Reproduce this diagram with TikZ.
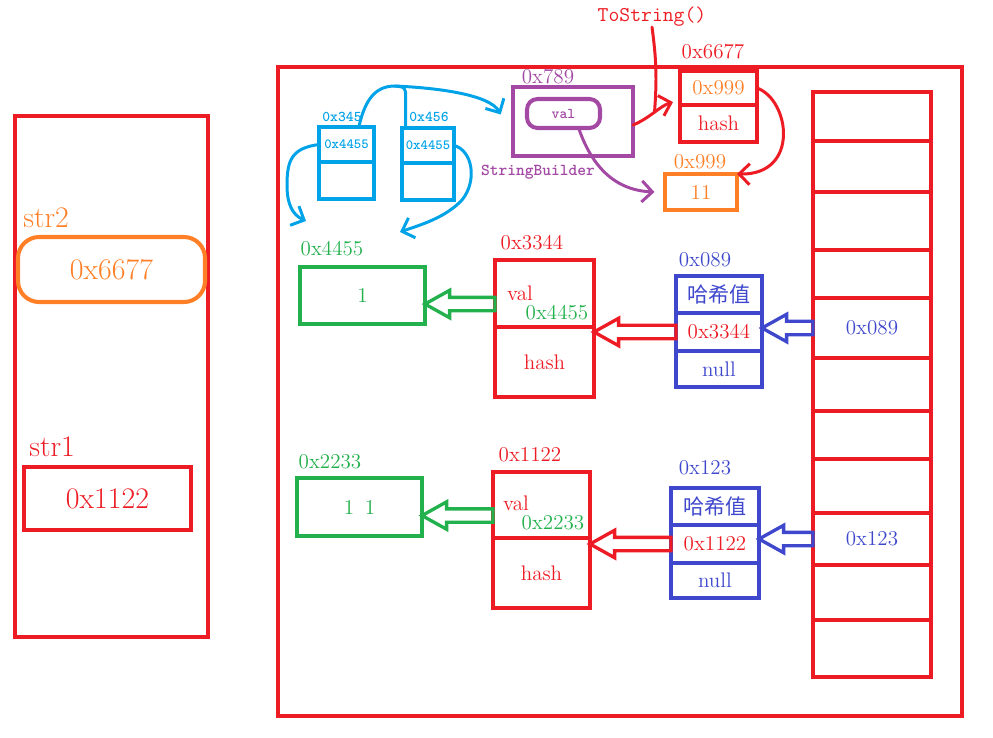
\documentclass[tikz,border=0pt]{standalone}
\usepackage{fontspec}
\newfontfamily\cjkfont{Noto Sans CJK SC}
\usetikzlibrary{arrows.meta, positioning, calc}

\definecolor{pred}{HTML}{ED1C24}
\definecolor{porange}{HTML}{FF7F27}
\definecolor{pgreen}{HTML}{22B14C}
\definecolor{pblue}{HTML}{3F48CC}
\definecolor{pcyan}{HTML}{00A2E8}
\definecolor{ppurple}{HTML}{A349A4}

\begin{document}
\begin{tikzpicture}[x=0.02cm, y=-0.02cm,
        sz/.style 2 args={minimum width=(#1)*0.02cm, minimum height=(#2)*0.02cm},
        frame/.style={draw=pred, line width=2.3pt, inner sep=0pt, outer sep=0pt},
        redcell/.style={draw=pred, line width=2.2pt, inner sep=0pt, outer sep=0pt, text=pred, font=\fontsize{12}{14}\selectfont},
        greencell/.style={redcell, draw=pgreen, text=pgreen},
        bluecell/.style={redcell, draw=pblue, text=pblue},
        cyancell/.style={draw=pcyan, line width=2.4pt, inner sep=0pt, outer sep=0pt, text=pcyan, font=\ttfamily\bfseries\fontsize{8}{9}\selectfont},
        txt/.style={inner sep=0pt, font=\fontsize{12}{14}\selectfont},
        big/.style={font=\fontsize{17}{19}\selectfont},
        small/.style={inner sep=0pt, font=\ttfamily\bfseries\fontsize{8.5}{10}\selectfont},
        handline/.style={line width=1.7pt, line cap=round, line join=round},
        hand/.style={handline, -{Straight Barb[length=6pt, width=12pt]}},
        hollow/.style={line width=1.9pt, line join=miter,
            to path={let \p1=(\tikztostart), \p2=(\tikztotarget) in
                (\x1,\y1+3.8pt) -- (\x2+14pt,\y1+3.8pt) -- (\x2+14pt,\y1+7.8pt) -- (\x2,\y1)
                -- (\x2+14pt,\y1-7.8pt) -- (\x2+14pt,\y1-3.8pt) -- (\x1,\y1-3.8pt) -- cycle}}]

    \useasboundingbox (0,0) rectangle (993,737);

    % stack
    \node[frame, sz={193}{521}] (stack) at (111.5,376.5) {};
    \node[txt, big, text=porange, anchor=west] (s2lbl) at (23,218) {str2};
    \node[draw=porange, line width=2.3pt, rounded corners=12pt, sz={187}{65}, text=porange, big] (str2) at (111.5,269.5) {0x6677};
    \node[txt, big, text=pred, anchor=west] (s1lbl) at (29,447) {str1};
    \node[redcell, sz={167}{63}, big] (str1) at (107.5,498.5) {0x1122};

    % heap
    \node[frame, sz={684}{649}] (heap) at (620,391.5) {};

    % two small blue objects
    \node[cyancell, sz={55}{35}] (a1) at (346.5,144.5) {0x4455};
    \node[cyancell, sz={55}{37}, below=0pt of a1] (a2) {};
    \node[small, text=pcyan] (a0) at (342,117) {0x345};
    \node[cyancell, sz={52}{35}] (b1) at (428,145.5) {0x4455};
    \node[cyancell, sz={52}{37}, below=0pt of b1] (b2) {};
    \node[small, text=pcyan] (b0) at (429,117) {0x456};

    % StringBuilder
    \node[draw=ppurple, line width=2.3pt, outer sep=0pt, sz={120}{69}] (sb) at (573,121.5) {};
    \node[draw=ppurple, line width=2.3pt, rounded corners=6pt, sz={73}{29}, text=ppurple, font=\ttfamily\bfseries\fontsize{8.5}{10}\selectfont] (sbval) at (563.5,113.5) {val};
    \node[txt, text=ppurple] (sbaddr) at (548,77) {0x789};
    \node[small, text=ppurple, font=\ttfamily\bfseries\fontsize{9.5}{11}\selectfont] (sbname) at (538,172) {StringBuilder};

    % String 0x6677
    \node[redcell, sz={77}{34}, text=porange] (s1) at (718.5,88) {0x999};
    \node[redcell, sz={77}{37}, below=0pt of s1] (s2) {hash};
    \node[txt, text=pred] (s0) at (713,52) {0x6677};
    \node[txt, text=pred, font=\ttfamily\fontsize{12}{14}\selectfont] (tostr) at (652,17) {ToString()};

    % char array 0x999
    \node[redcell, draw=porange, text=porange, sz={72}{36}] (arr) at (701,192) {11};
    \node[txt, text=porange] (arr0) at (700,162) {0x999};

    % char arrays
    \node[greencell, sz={125}{57}] (g1) at (362.5,295.5) {1};
    \node[txt, text=pgreen] (g1lbl) at (332,249) {0x4455};
    \node[greencell, sz={125}{58}] (g2) at (359.5,507) {1\enspace1};
    \node[txt, text=pgreen] (g2lbl) at (330,462) {0x2233};

    % String objects
    \node[redcell, sz={99}{67}] (v1) at (544.5,293.5) {};
    \node[redcell, sz={99}{70}, below=0pt of v1] (h1) {hash};
    \node[txt, text=pred] (v1a) at (520,293) {val};
    \node[txt, text=pgreen] (v1b) at (557,313) {0x4455};
    \node[txt, text=pred] (v1lbl) at (532,243) {0x3344};

    \node[redcell, sz={97}{66}] (v2) at (541.5,505) {};
    \node[redcell, sz={97}{70}, below=0pt of v2] (h2) {hash};
    \node[txt, text=pred] (v2a) at (516,503) {val};
    \node[txt, text=pgreen] (v2b) at (553,523) {0x2233};
    \node[txt, text=pred] (v2lbl) at (530,455) {0x1122};

    % hash nodes
    \node[bluecell, sz={86}{37}] (n1) at (719,294.5) {\cjkfont 哈希值};
    \node[bluecell, sz={86}{38}, below=0pt of n1, text=pred] (n1p) {0x3344};
    \node[bluecell, sz={86}{36}, below=0pt of n1p] (n1n) {null};
    \node[txt, text=pblue] (n1lbl) at (705,260) {0x089};

    \node[bluecell, sz={88}{37}] (n2) at (715,506.5) {\cjkfont 哈希值};
    \node[bluecell, sz={88}{38}, below=0pt of n2, text=pred] (n2p) {0x1122};
    \node[bluecell, sz={88}{35}, below=0pt of n2p] (n2n) {null};
    \node[txt, text=pblue] (n2lbl) at (705,468) {0x123};

    % string table
    \foreach \a/\b [count=\i] in {92/141,141/192,192/250,250/298,298/358,358/411,411/459,459/513,513/565,565/620,620/677}
        \node[frame, line width=2.2pt, sz={118}{\b-\a}] (t\i) at (872,{(\a+\b)/2}) {};
    \node[txt, text=pblue] (t5txt) at (t5) {0x089};
    \node[txt, text=pblue] (t9txt) at (t9) {0x123};

    % hollow arrows
    \draw[hollow, pgreen] ([yshift=-6pt]v1.west) to (g1.east);
    \draw[hollow, pgreen] ([yshift=-6pt]v2.west) to (g2.east);
    \draw[hollow, pred] (n1p.west) to (v1.south east);
    \draw[hollow, pred] (n2p.west) to (v2.south east);
    \draw[hollow, pblue] (t5.west) to (n1p.east);
    \draw[hollow, pblue] (t9.west) to (n2p.east);

    % hand drawn pointers
    \coordinate (top) at (395,86);
    \coordinate (sbin) at ([xshift=-7pt, yshift=4pt]sb.west);
    \coordinate (g1in) at (306,221);
    \coordinate (g1in2) at (400,232);
    \draw[hand, pcyan] ([xshift=7pt]a1.north) .. controls (365,100) and (375,86) .. (top)
        .. controls (440,88) and (490,95) .. (sbin);
    \draw[handline, pcyan] ([xshift=2pt]b1.north west) -- ++(0,-36) .. controls (404,87) .. (top);
    \draw[hand, pcyan] (a1.west) .. controls (292,148) and (287,160) .. (287,185)
        .. controls (287,205) and (293,215) .. (g1in);
    \draw[hand, pcyan] (b1.east) .. controls (472,150) and (478,180) .. (462,200)
        .. controls (445,218) and (420,225) .. (g1in2);

    \draw[hand, ppurple] ([xshift=9pt]sbval.south) .. controls (590,160) and (610,190) .. ([xshift=-6pt]arr.west);
    \draw[hand, pred] ([yshift=-2pt]sb.east) .. controls (650,118) and (660,106) .. ([xshift=-4pt, yshift=-8pt]s1.west)
        coordinate[pos=0.5] (ts);
    \draw[handline, pred] (tostr.south) to[bend left=6] (ts);
    \draw[hand, pred] (s1.east) .. controls (790,100) and (800,175) .. (arr.north east);

\end{tikzpicture}
\end{document}
